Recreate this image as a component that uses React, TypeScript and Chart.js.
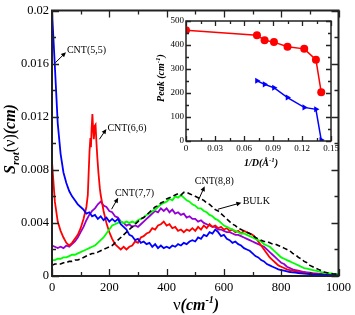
import React, { useEffect, useRef } from "react";
import { Chart, registerables } from "chart.js";
Chart.register(...registerables);

const SERIF = '"Liberation Serif", "DejaVu Serif", serif';

// Frequencies (cm^-1) shared by most series
const freq = [
  0, 10, 20, 30, 40, 50, 60, 70, 80, 90,
  100, 110, 120, 130, 140, 150, 160, 170, 180, 190,
  200, 210, 220, 230, 240, 250, 260, 270, 280, 290,
  300, 310, 320, 330, 340, 350, 360, 370, 380, 390,
  400, 410, 420, 430, 440, 450, 460, 470, 480, 490,
  500, 510, 520, 530, 540, 550, 560, 570, 580, 590,
  600, 610, 620, 630, 640, 650, 660, 670, 680, 690,
  700, 710, 720, 730, 740, 750, 760, 770, 780, 790,
  800, 810, 820, 830, 840, 850, 860, 870, 880, 890,
  900, 910, 920, 930, 940, 950, 960, 970, 980, 990,
  1000,
];

const cnt55 = [
  0.0200, 0.0158, 0.0115, 0.0092, 0.0078, 0.0070, 0.0064, 0.0060, 0.0057, 0.0054,
  0.0052, 0.0050, 0.0047, 0.0048, 0.0045, 0.0046, 0.0043, 0.0045, 0.0042, 0.0044,
  0.0041, 0.0043, 0.0041, 0.0043, 0.0039, 0.0037, 0.0035, 0.0031, 0.0030, 0.0027,
  0.0028, 0.0025, 0.0026, 0.0024, 0.0025, 0.0022, 0.0024, 0.0021, 0.0023, 0.0021,
  0.0022, 0.0021, 0.0023, 0.0022, 0.0024, 0.0023, 0.0025, 0.0024, 0.0026, 0.0027,
  0.0026, 0.0029, 0.0028, 0.0031, 0.0030, 0.0033, 0.0032, 0.0035, 0.0033, 0.0030,
  0.0031, 0.0028, 0.0027, 0.0025, 0.0026, 0.0024, 0.0023, 0.0021, 0.0020, 0.0019,
  0.0017, 0.0015, 0.0014, 0.0012, 0.0011, 0.0009, 0.0008, 0.0007, 0.0006, 0.0005,
  0.00045, 0.0004, 0.00035, 0.0003, 0.00028, 0.00025, 0.00022, 0.0002, 0.00018, 0.00016,
  0.00015, 0.00013, 0.00012, 0.0001, 0.0001, 0.00009, 0.00008, 0.00007, 0.00006, 0.00005,
  0.00005,
];

// CNT(6,6) has a sharp peak, so it gets its own frequency list
const freq66 = [
  0, 10, 20, 30, 40, 50, 60, 70, 80, 90,
  100, 110, 120, 125, 128, 131, 134, 136, 138, 141,
  144, 146, 149, 152, 155, 158, 162, 167, 170, 180,
  190, 200, 210, 220, 230, 240, 250, 260, 270, 280,
  290, 300, 310, 320, 330, 340, 350, 360, 370, 380,
  390, 400, 410, 420, 430, 440, 450, 460, 470, 480,
  490, 500, 510, 520, 530, 540, 550, 560, 570, 580,
  590, 600, 610, 620, 630, 640, 650, 660, 670, 680,
  690, 700, 710, 720, 730, 740, 750, 760, 770, 780,
  790, 800, 810, 820, 830, 840, 850, 860, 870, 880,
  890, 900, 910, 920, 930, 940, 950, 960, 970, 980,
  990, 1000,
];
const cnt66 = [
  0.0086, 0.0056, 0.0041, 0.0034, 0.0029, 0.0025, 0.0023, 0.0025, 0.0028, 0.0031,
  0.0036, 0.0043, 0.0052, 0.0061, 0.0078, 0.0094, 0.0104, 0.0097, 0.0110, 0.0122,
  0.0109, 0.0103, 0.0113, 0.0114, 0.0101, 0.0090, 0.0078, 0.0066, 0.0061, 0.0049,
  0.0040, 0.0033, 0.0028, 0.0024, 0.0022, 0.0020, 0.0022, 0.0020, 0.0022, 0.0023,
  0.0026, 0.0025, 0.0029, 0.0030, 0.0032, 0.0033, 0.0036, 0.0035, 0.0038, 0.0039,
  0.0041, 0.0038, 0.0039, 0.0036, 0.0037, 0.0034, 0.0035, 0.0033, 0.0035, 0.0034,
  0.0036, 0.0034, 0.0037, 0.0035, 0.0038, 0.0036, 0.0039, 0.0037, 0.0038, 0.0036,
  0.0037, 0.0035, 0.0036, 0.0034, 0.0035, 0.0033, 0.0034, 0.0032, 0.0034, 0.0033,
  0.0032, 0.0031, 0.0029, 0.0026, 0.0023, 0.0020, 0.0017, 0.0014, 0.0012, 0.0010,
  0.0008, 0.0007, 0.0006, 0.0005, 0.00045, 0.0004, 0.00035, 0.0003, 0.00028, 0.00025,
  0.00022, 0.0002, 0.00018, 0.00015, 0.00013, 0.00011, 0.0001, 0.00009, 0.00008, 0.00007,
  0.00006, 0.00005,
];

const cnt77 = [
  0.0023, 0.0022, 0.0021, 0.0022, 0.0021, 0.0023, 0.0022, 0.0024, 0.0026, 0.0029,
  0.0033, 0.0037, 0.0042, 0.0046, 0.0049, 0.0051, 0.0054, 0.0056, 0.0053, 0.0052,
  0.0049, 0.0048, 0.0045, 0.0044, 0.0041, 0.0040, 0.0038, 0.0039, 0.0037, 0.0038,
  0.0037, 0.0039, 0.0041, 0.0043, 0.0045, 0.0047, 0.0049, 0.0048, 0.0051, 0.0049,
  0.0051, 0.0048, 0.0050, 0.0047, 0.0048, 0.0046, 0.0047, 0.0044, 0.0045, 0.0043,
  0.0043, 0.0041, 0.0042, 0.0040, 0.0039, 0.0038, 0.0037, 0.0037, 0.0035, 0.0035,
  0.0034, 0.0033, 0.0033, 0.0032, 0.0031, 0.0031, 0.0030, 0.0029, 0.0028, 0.0027,
  0.0026, 0.0025, 0.0024, 0.0023, 0.0022, 0.0020, 0.0018, 0.0016, 0.0014, 0.0012,
  0.0010, 0.0009, 0.0007, 0.0006, 0.0005, 0.00045, 0.0004, 0.00035, 0.0003, 0.00028,
  0.00025, 0.00022, 0.0002, 0.00017, 0.00015, 0.00013, 0.00011, 0.0001, 0.00008, 0.00007,
  0.00006,
];

const cnt88 = [
  0.0012, 0.0012, 0.0013, 0.0013, 0.0014, 0.0014, 0.0015, 0.0016, 0.0016, 0.0017,
  0.0018, 0.0019, 0.0020, 0.0021, 0.0022, 0.0023, 0.0025, 0.0027, 0.0029, 0.0032,
  0.0035, 0.0038, 0.0039, 0.0040, 0.0041, 0.0040, 0.0041, 0.0040, 0.0041, 0.0040,
  0.0042, 0.0043, 0.0044, 0.0046, 0.0047, 0.0049, 0.0050, 0.0052, 0.0054, 0.0055,
  0.0056, 0.0058, 0.0057, 0.0060, 0.0059, 0.0061, 0.0059, 0.0057, 0.0056, 0.0054,
  0.0053, 0.0051, 0.0051, 0.0049, 0.0048, 0.0046, 0.0045, 0.0043, 0.0042, 0.0040,
  0.0038, 0.0037, 0.0036, 0.0035, 0.0034, 0.0033, 0.0032, 0.0032, 0.0031, 0.0030,
  0.0029, 0.0028, 0.0027, 0.0026, 0.0024, 0.0023, 0.0022, 0.0020, 0.0018, 0.0016,
  0.0014, 0.0013, 0.0012, 0.0011, 0.0010, 0.0009, 0.0008, 0.0007, 0.0006, 0.00055,
  0.0005, 0.00045, 0.0004, 0.00035, 0.0003, 0.00025, 0.0002, 0.0002, 0.00017, 0.00015,
  0.00013,
];

const bulk = [
  0.0008, 0.0009, 0.0009, 0.0009, 0.0010, 0.0010, 0.0011, 0.0011, 0.0012, 0.0012,
  0.0013, 0.0014, 0.0015, 0.0016, 0.0017, 0.0017, 0.0018, 0.0019, 0.0020, 0.0021,
  0.0022, 0.0023, 0.0025, 0.0027, 0.0029, 0.0031, 0.0033, 0.0035, 0.0037, 0.0039,
  0.0041, 0.0043, 0.0044, 0.0046, 0.0048, 0.0050, 0.0052, 0.0053, 0.0055, 0.0056,
  0.0058, 0.0059, 0.0060, 0.0061, 0.0062, 0.0061, 0.0063, 0.0063, 0.0062, 0.0061,
  0.0060, 0.0059, 0.0058, 0.0057, 0.0055, 0.0054, 0.0052, 0.0050, 0.0049, 0.0047,
  0.0045, 0.0043, 0.0041, 0.0039, 0.0038, 0.0036, 0.0035, 0.0034, 0.0033, 0.0032,
  0.0031, 0.0029, 0.0028, 0.0027, 0.0026, 0.0026, 0.0025, 0.0024, 0.0024, 0.0023,
  0.0022, 0.0021, 0.0020, 0.0019, 0.0017, 0.0016, 0.0014, 0.0013, 0.0011, 0.0010,
  0.0008, 0.0007, 0.0006, 0.0005, 0.0004, 0.0003, 0.00025, 0.0002, 0.00017, 0.00015,
  0.00013,
];

// Main axis ticks
const xMajor = [0, 200, 400, 600, 800, 1000];
const xMajorLabels = ["0", "200", "400", "600", "800", "1000"];
const xMinor = [100, 300, 500, 700, 900];
const yMajor = [0, 0.004, 0.008, 0.012, 0.016, 0.02];
const yMajorLabels = ["0", "0.004", "0.008", "0.012", "0.016", "0.02"];
const yMinor = [0.002, 0.006, 0.01, 0.014, 0.018];

// Inset data: peak position vs inverse diameter
const invD = [0, 0.0734, 0.0813, 0.091, 0.105, 0.1223, 0.1344, 0.1399];
const peakHigh = [461, 441, 420, 412, 393, 384, 339, 203];
const invDLow = [0.0734, 0.0813, 0.091, 0.105, 0.1223, 0.1344, 0.1399];
const peakLow = [251, 236, 222, 181, 140, 132, 4];

const insetXMajor = [0, 0.03, 0.06, 0.09, 0.12, 0.15];
const insetXLabels = ["0", "0.03", "0.06", "0.09", "0.12", "0.15"];
const insetXMinor = [0.015, 0.045, 0.075, 0.105, 0.135];
const insetYMajor = [0, 100, 200, 300, 400, 500];
const insetYLabels = ["0", "100", "200", "300", "400", "500"];
const insetYMinor = [50, 150, 250, 350, 450];

// Annotations: label anchor and arrow (tail on curve -> head at label), in data units
const notes = [
  { text: "CNT(5,5)", x: 52, y: 0.0168, tail: [11.5, 0.01606], head: [48.8, 0.01686] },
  { text: "CNT(6,6)", x: 193.4, y: 0.01089, tail: [165.5, 0.0103], head: [189.9, 0.01108] },
  { text: "CNT(7,7)", x: 219.5, y: 0.00602, tail: [208, 0.00503], head: [231, 0.0059] },
  { text: "CNT(8,8)", x: 498.3, y: 0.00695, tail: [509.8, 0.00565], head: [533, 0.00677] },
  { text: "BULK", x: 665.5, y: 0.00539, tail: [579.4, 0.00503], head: [661, 0.00552] },
];

type Seg = { t: string; f: string; dy: number };

function drawRich(ctx: CanvasRenderingContext2D, segs: Seg[], cx: number, cy: number, rot: boolean) {
  ctx.save();
  ctx.translate(cx, cy);
  if (rot) ctx.rotate(-Math.PI / 2);
  let w = 0;
  for (const s of segs) {
    ctx.font = s.f;
    w += ctx.measureText(s.t).width;
  }
  let x = -w / 2;
  ctx.fillStyle = "#000";
  ctx.textBaseline = "alphabetic";
  ctx.textAlign = "left";
  for (const s of segs) {
    ctx.font = s.f;
    ctx.fillText(s.t, x, s.dy);
    x += ctx.measureText(s.t).width;
  }
  ctx.restore();
}

function framePlugin(
  id: string,
  xMaj: number[], xMin: number[], yMaj: number[], yMin: number[],
  majLen: number, minLen: number, frameW: number,
  titles: (ctx: CanvasRenderingContext2D) => void
) {
  return {
    id,
    afterDraw(chart: any) {
      const { ctx, chartArea: a, scales } = chart;
      const xs = scales.x;
      const ys = scales.y;
      ctx.save();
      ctx.strokeStyle = "#222";
      ctx.lineWidth = 1.3;
      ctx.beginPath();
      const xt = (vals: number[], len: number) => {
        for (const v of vals) {
          const px = Math.round(xs.getPixelForValue(v)) + 0.5;
          ctx.moveTo(px, a.bottom);
          ctx.lineTo(px, a.bottom - len);
          ctx.moveTo(px, a.top);
          ctx.lineTo(px, a.top + len);
        }
      };
      const yt = (vals: number[], len: number) => {
        for (const v of vals) {
          const py = Math.round(ys.getPixelForValue(v)) + 0.5;
          ctx.moveTo(a.left, py);
          ctx.lineTo(a.left + len, py);
          ctx.moveTo(a.right, py);
          ctx.lineTo(a.right - len, py);
        }
      };
      xt(xMaj, majLen);
      xt(xMin, minLen);
      yt(yMaj, majLen);
      yt(yMin, minLen);
      ctx.stroke();
      ctx.lineWidth = frameW;
      ctx.strokeRect(a.left, a.top, a.right - a.left, a.bottom - a.top);
      titles(ctx);
      ctx.restore();
    },
  };
}

const notesPlugin = {
  id: "notes",
  afterDatasetsDraw(chart: any) {
    const { ctx, scales } = chart;
    const xs = scales.x;
    const ys = scales.y;
    ctx.save();
    ctx.fillStyle = "#000";
    ctx.strokeStyle = "#000";
    ctx.lineWidth = 1;
    ctx.font = `10px ${SERIF}`;
    ctx.textAlign = "left";
    ctx.textBaseline = "alphabetic";
    for (const n of notes) {
      ctx.fillText(n.text, xs.getPixelForValue(n.x), ys.getPixelForValue(n.y));
      const tx = xs.getPixelForValue(n.tail[0]);
      const ty = ys.getPixelForValue(n.tail[1]);
      const hx = xs.getPixelForValue(n.head[0]);
      const hy = ys.getPixelForValue(n.head[1]);
      const ang = Math.atan2(hy - ty, hx - tx);
      const L = 5;
      const W = 2.3;
      ctx.beginPath();
      ctx.moveTo(tx, ty);
      ctx.lineTo(hx - L * 0.8 * Math.cos(ang), hy - L * 0.8 * Math.sin(ang));
      ctx.stroke();
      ctx.beginPath();
      ctx.moveTo(hx, hy);
      ctx.lineTo(hx - L * Math.cos(ang) + W * Math.sin(ang), hy - L * Math.sin(ang) - W * Math.cos(ang));
      ctx.lineTo(hx - L * Math.cos(ang) - W * Math.sin(ang), hy - L * Math.sin(ang) + W * Math.cos(ang));
      ctx.closePath();
      ctx.fill();
    }
    ctx.restore();
  },
};

function pts(xs: number[], ys: number[]) {
  return xs.map((x, i) => ({ x, y: ys[i] }));
}

export default function App() {
  const mainRef = useRef<HTMLCanvasElement>(null);
  const insetRef = useRef<HTMLCanvasElement>(null);

  useEffect(() => {
    const lineDs = (label: string, data: any, color: string, width: number, dash: number[] = []) => ({
      label,
      data,
      borderColor: color,
      backgroundColor: color,
      borderWidth: width,
      borderDash: dash,
      pointRadius: 0,
      tension: 0,
      fill: false,
    });

    const mainTitles = (ctx: CanvasRenderingContext2D) => {
      drawRich(
        ctx,
        [
          { t: "S", f: `italic bold 16px ${SERIF}`, dy: 0 },
          { t: "rot", f: `italic bold 11px ${SERIF}`, dy: 4 },
          { t: "(ν)", f: `16px ${SERIF}`, dy: 0 },
          { t: "(cm)", f: `italic bold 16px ${SERIF}`, dy: 0 },
        ],
        15, 139, true
      );
      drawRich(
        ctx,
        [
          { t: "ν", f: `17px ${SERIF}`, dy: 0 },
          { t: "(", f: `italic bold 16px ${SERIF}`, dy: 0 },
          { t: "cm", f: `italic bold 16px ${SERIF}`, dy: 0 },
          { t: "-1", f: `italic bold 10px ${SERIF}`, dy: -7 },
          { t: ")", f: `italic bold 16px ${SERIF}`, dy: 0 },
        ],
        196, 310, false
      );
    };

    const main = new Chart(mainRef.current!, {
      type: "line",
      data: {
        datasets: [
          lineDs("BULK", pts(freq, bulk), "#000000", 1.6, [5, 3]),
          lineDs("CNT(5,5)", pts(freq, cnt55), "#0000ff", 1.8),
          lineDs("CNT(8,8)", pts(freq, cnt88), "#00ff00", 1.8),
          lineDs("CNT(6,6)", pts(freq66, cnt66), "#ff0000", 1.8),
          lineDs("CNT(7,7)", pts(freq, cnt77), "#9400d3", 1.8),
        ] as any,
      },
      options: {
        animation: false,
        responsive: false,
        devicePixelRatio: 1,
        layout: { padding: { left: 0, top: 7, right: 16, bottom: 0 } },
        plugins: { legend: { display: false }, tooltip: { enabled: false } },
        scales: {
          x: {
            type: "linear",
            min: 0,
            max: 1000,
            grid: { display: false, drawTicks: false },
            border: { display: false },
            afterBuildTicks: (axis: any) => {
              axis.ticks = xMajor.map((v) => ({ value: v }));
            },
            afterFit: (axis: any) => {
              axis.height = 39;
            },
            ticks: {
              padding: 4,
              color: "#000",
              maxRotation: 0,
              autoSkip: false,
              font: { family: SERIF, size: 12.5 },
              callback: (_v: any, i: number) => xMajorLabels[i],
            },
          },
          y: {
            type: "linear",
            min: 0,
            max: 0.02,
            grid: { display: false, drawTicks: false },
            border: { display: false },
            afterBuildTicks: (axis: any) => {
              axis.ticks = yMajor.map((v) => ({ value: v }));
            },
            afterFit: (axis: any) => {
              axis.width = 52;
            },
            ticks: {
              padding: 3,
              color: "#000",
              autoSkip: false,
              font: { family: SERIF, size: 12.5 },
              callback: (_v: any, i: number) => yMajorLabels[i],
            },
          },
        },
      } as any,
      plugins: [
        notesPlugin,
        framePlugin("mainFrame", xMajor, xMinor, yMajor, yMinor, 7, 4, 2, mainTitles),
      ] as any,
    });

    const insetTitles = (ctx: CanvasRenderingContext2D) => {
      drawRich(
        ctx,
        [
          { t: "Peak (cm", f: `italic bold 10px ${SERIF}`, dy: 0 },
          { t: "-1", f: `italic bold 7px ${SERIF}`, dy: -4 },
          { t: ")", f: `italic bold 10px ${SERIF}`, dy: 0 },
        ],
        14, 68, true
      );
      drawRich(
        ctx,
        [
          { t: "1/D(Å", f: `italic bold 10px ${SERIF}`, dy: 0 },
          { t: "-1", f: `italic bold 7px ${SERIF}`, dy: -4 },
          { t: ")", f: `italic bold 10px ${SERIF}`, dy: 0 },
        ],
        111, 156, false
      );
    };

    const inset = new Chart(insetRef.current!, {
      type: "line",
      data: {
        datasets: [
          {
            label: "high",
            data: pts(invD, peakHigh),
            borderColor: "#ff0000",
            backgroundColor: "#ff0000",
            borderWidth: 1.5,
            pointStyle: "circle",
            pointRadius: 4,
            pointBorderWidth: 0,
            tension: 0,
          },
          {
            label: "low",
            data: pts(invDLow, peakLow),
            borderColor: "#0000ff",
            backgroundColor: "#0000ff",
            borderWidth: 1.5,
            pointStyle: "triangle",
            pointRotation: 90,
            pointRadius: 3.5,
            pointBorderWidth: 0,
            tension: 0,
          },
        ] as any,
      },
      options: {
        animation: false,
        responsive: false,
        devicePixelRatio: 1,
        layout: { padding: { left: 0, top: 11, right: 14, bottom: 0 } },
        plugins: { legend: { display: false }, tooltip: { enabled: false } },
        scales: {
          x: {
            type: "linear",
            min: 0,
            max: 0.15,
            grid: { display: false, drawTicks: false },
            border: { display: false },
            afterBuildTicks: (axis: any) => {
              axis.ticks = insetXMajor.map((v) => ({ value: v }));
            },
            afterFit: (axis: any) => {
              axis.height = 34;
            },
            ticks: {
              padding: 2,
              color: "#000",
              maxRotation: 0,
              autoSkip: false,
              font: { family: SERIF, size: 9 },
              callback: (_v: any, i: number) => insetXLabels[i],
            },
          },
          y: {
            type: "linear",
            min: 0,
            max: 500,
            grid: { display: false, drawTicks: false },
            border: { display: false },
            afterBuildTicks: (axis: any) => {
              axis.ticks = insetYMajor.map((v) => ({ value: v }));
            },
            afterFit: (axis: any) => {
              axis.width = 36;
            },
            ticks: {
              padding: 2,
              color: "#000",
              autoSkip: false,
              font: { family: SERIF, size: 9 },
              callback: (_v: any, i: number) => insetYLabels[i],
            },
          },
        },
      } as any,
      plugins: [
        framePlugin("insetFrame", insetXMajor, insetXMinor, insetYMajor, insetYMinor, 5, 3, 1.5, insetTitles),
      ] as any,
    });

    return () => {
      main.destroy();
      inset.destroy();
    };
  }, []);

  return (
    <div style={{ position: "fixed", left: 0, top: 0, width: 355, height: 315, background: "#fff" }}>
      <canvas ref={mainRef} width={355} height={315} style={{ position: "absolute", left: 0, top: 0 }} />
      <canvas ref={insetRef} width={195} height={165} style={{ position: "absolute", left: 150, top: 10 }} />
    </div>
  );
}
